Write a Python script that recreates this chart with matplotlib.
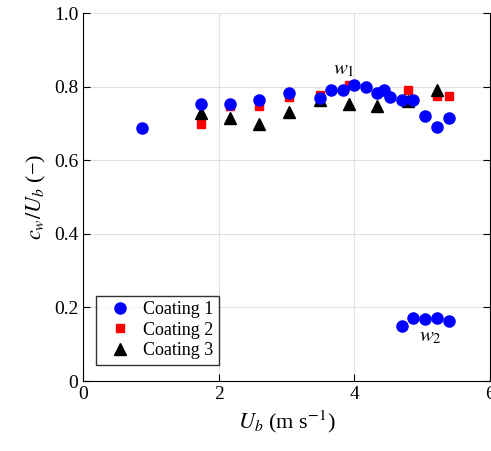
import numpy as np
import matplotlib
matplotlib.use('Agg')
import matplotlib.pyplot as plt

plt.rcParams['font.family'] = ['Liberation Serif', 'DejaVu Serif']
plt.rcParams['mathtext.fontset'] = 'stix'

# Coating 1 (w1 branch, then w2 branch)
x1 = [0.87, 1.745, 2.17, 2.60, 3.03, 3.49, 3.66, 3.83, 4.0, 4.17, 4.34, 4.44, 4.53,
      4.70, 4.87, 5.04, 5.22, 5.39,
      4.70, 4.87, 5.04, 5.22, 5.39]
y1 = [0.687, 0.752, 0.752, 0.764, 0.782, 0.768, 0.792, 0.792, 0.804, 0.798, 0.783, 0.791, 0.773,
      0.764, 0.764, 0.721, 0.691, 0.716,
      0.149, 0.172, 0.168, 0.170, 0.164]
# Coating 2
x2 = [0.87, 1.745, 2.17, 2.60, 3.03, 3.49, 3.92, 4.79, 5.22, 5.40]
y2 = [0.687, 0.699, 0.748, 0.746, 0.773, 0.777, 0.804, 0.791, 0.774, 0.774]
# Coating 3
x3 = [1.745, 2.17, 2.60, 3.03, 3.49, 3.92, 4.34, 4.79, 5.22]
y3 = [0.729, 0.714, 0.699, 0.731, 0.764, 0.753, 0.746, 0.762, 0.792]

fig = plt.figure(figsize=(4.91, 4.51), dpi=100)
ax = fig.add_axes([83/491, 1 - 381/451, 407/491, 368/451])
ax.plot(x2, y2, 's', color='red', ms=6, label='Coating 2', zorder=3)
ax.plot(x3, y3, '^', color='black', ms=8, label='Coating 3', zorder=3)
ax.plot(x1, y1, 'o', color='blue', ms=8, label='Coating 1', zorder=4)

ax.text(3.85, 0.82, '$w_1$', fontsize=15, ha='center', va='bottom')
ax.text(5.12, 0.145, '$w_2$', fontsize=15, ha='center', va='top')

ax.set_xlim(0, 6)
ax.set_ylim(0, 1)
ax.set_xticks([0, 2, 4, 6])
ax.set_yticks([0, 0.2, 0.4, 0.6, 0.8, 1.0])
ax.set_yticklabels(['0', '0.2', '0.4', '0.6', '0.8', '1.0'])
ax.grid(True, color='#e0e0e0', lw=0.8)
ax.set_axisbelow(True)
ax.spines['top'].set_visible(False)
ax.tick_params(direction='in', right=True, labelsize=14, length=5)
ax.set_xlabel(r'$U_b$ (m s$^{-1}$)', fontsize=16)
ax.set_ylabel(r'$c_w/U_b$ (−)', fontsize=16)

h, l = ax.get_legend_handles_labels()
order = [2, 0, 1]
ax.legend([h[i] for i in order], [l[i] for i in order], loc='lower left',
          fontsize=13, frameon=True, fancybox=False, edgecolor='black',
          handletextpad=0.3, borderpad=0.3, labelspacing=0.2,
          bbox_to_anchor=(0.01, 0.02))

fig.savefig('out.png', dpi=100)
